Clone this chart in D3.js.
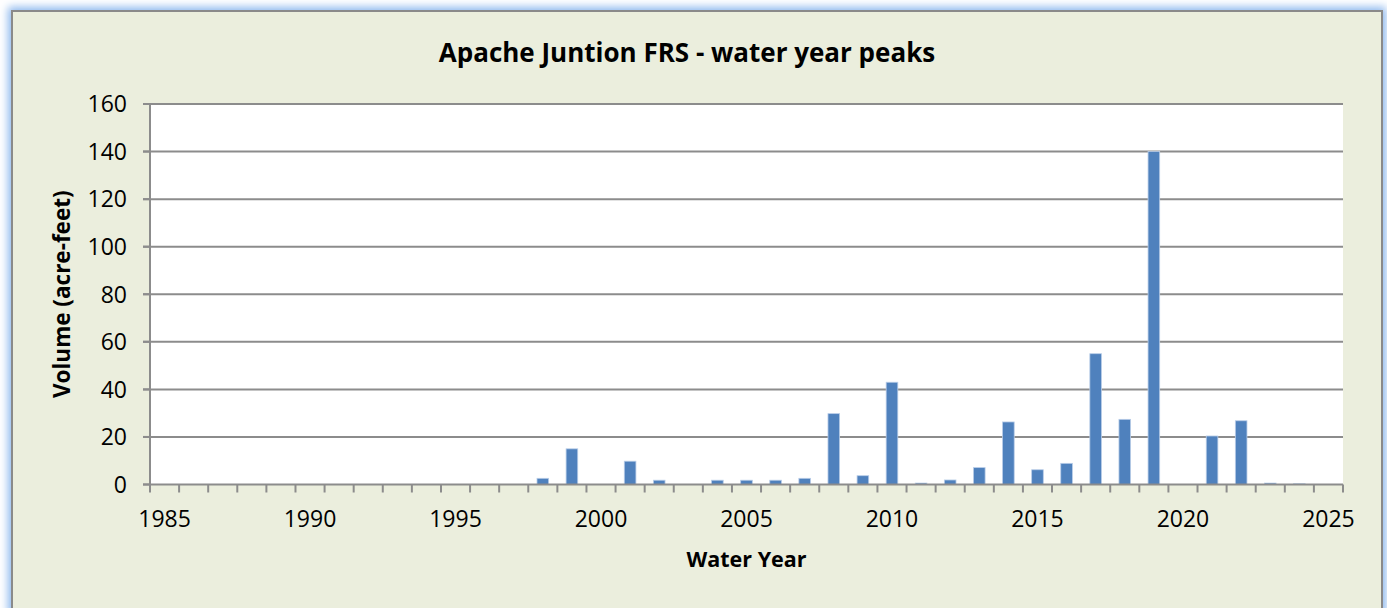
<!DOCTYPE html>
<html>
<head>
<meta charset="utf-8">
<script src="https://cdn.jsdelivr.net/npm/d3@7"></script>
<style>
  html, body { margin: 0; padding: 0; background: #ffffff; }
  svg { display: block; font-family: "Open Sans", Lato, sans-serif; }
</style>
</head>
<body>
<div id="chart"></div>
<script>
const title = "Apache Juntion FRS - water year peaks";
const xTitle = "Water Year";
const yTitle = "Volume (acre-feet)";

const waterYears = [1998, 1999, 2001, 2002, 2004, 2005, 2006, 2007, 2008, 2009, 2010, 2011, 2012,
  2013, 2014, 2015, 2016, 2017, 2018, 2019, 2021, 2022, 2023, 2024];
const peakVolumes = [2.6, 15, 9.8, 1.8, 1.8, 1.8, 1.8, 2.6, 29.8, 3.7, 43, 0.6, 1.9,
  7.1, 26.3, 6.2, 8.9, 55, 27.4, 140, 20.4, 26.8, 0.6, 0.3];
const yTicks = [0, 20, 40, 60, 80, 100, 120, 140, 160];
const xLabels = [1985, 1990, 1995, 2000, 2005, 2010, 2015, 2020, 2025];

const width = 1387, height = 608;
const margin = { left: 150, right: 44, top: 104, bottom: 123.5 };

const svg = d3.select("#chart").append("svg")
  .attr("width", width).attr("height", height);

const defs = svg.append("defs");
const glow = defs.append("filter").attr("id", "glow")
  .attr("x", "-5%").attr("y", "-10%").attr("width", "110%").attr("height", "120%");
glow.append("feMorphology").attr("in", "SourceAlpha").attr("operator", "dilate").attr("radius", 3).attr("result", "fat");
glow.append("feGaussianBlur").attr("in", "fat").attr("stdDeviation", 4).attr("result", "blur");
glow.append("feFlood").attr("flood-color", "#8db8ee");
glow.append("feComposite").attr("in2", "blur").attr("operator", "in").attr("result", "halo");
const merge = glow.append("feMerge");
merge.append("feMergeNode").attr("in", "halo");
merge.append("feMergeNode").attr("in", "SourceGraphic");

// chart area
svg.append("rect")
  .attr("x", 12).attr("y", 11).attr("width", 1370).attr("height", 600)
  .attr("fill", "#ebeedd").attr("stroke", "#8a8a8a").attr("stroke-width", 2)
  .attr("filter", "url(#glow)");

const x = d3.scaleBand()
  .domain(d3.range(1985, 2026))
  .range([margin.left, width - margin.right])
  .paddingInner(0.6).paddingOuter(0.3);
const step = x.step();
const center = (yr) => x(yr) + x.bandwidth() / 2;

const y = d3.scaleLinear().domain([0, 160])
  .range([height - margin.bottom, margin.top]);

// plot area
svg.append("rect")
  .attr("x", margin.left).attr("y", margin.top)
  .attr("width", width - margin.right - margin.left)
  .attr("height", y(0) - margin.top)
  .attr("fill", "#ffffff");

// gridlines
svg.append("g").selectAll("line").data(yTicks.filter((d) => d > 0)).join("line")
  .attr("x1", margin.left - 7).attr("x2", width - margin.right)
  .attr("y1", (d) => y(d)).attr("y2", (d) => y(d))
  .attr("stroke", "#8c8c8c").attr("stroke-width", 2);

// bars
const data = waterYears.map((yr, i) => ({ yr, v: peakVolumes[i] }));
svg.append("g").selectAll("rect").data(data).join("rect")
  .attr("x", (d) => x(d.yr)).attr("width", x.bandwidth())
  .attr("y", (d) => y(d.v)).attr("height", (d) => y(0) - y(d.v))
  .attr("fill", "#4f81bd").attr("stroke", "#b9cde8").attr("stroke-width", 0.8);

// y axis
const yAxis = svg.append("g");
yAxis.append("line")
  .attr("x1", margin.left).attr("x2", margin.left)
  .attr("y1", margin.top).attr("y2", y(0))
  .attr("stroke", "#8c8c8c").attr("stroke-width", 2);
yAxis.selectAll("line.tick").data(yTicks).join("line").attr("class", "tick")
  .attr("x1", margin.left - 7).attr("x2", margin.left)
  .attr("y1", (d) => y(d)).attr("y2", (d) => y(d))
  .attr("stroke", "#8c8c8c").attr("stroke-width", 2);
yAxis.selectAll("text").data(yTicks).join("text")
  .attr("x", margin.left - 23).attr("y", (d) => y(d))
  .attr("dy", "0.36em").attr("text-anchor", "end")
  .attr("font-size", 23).attr("fill", "#000")
  .text((d) => d);

// x axis
const xAxis = svg.append("g");
xAxis.append("line")
  .attr("x1", margin.left - 7).attr("x2", width - margin.right)
  .attr("y1", y(0)).attr("y2", y(0))
  .attr("stroke", "#8c8c8c").attr("stroke-width", 2);
const bounds = x.domain().map((yr) => center(yr) - step / 2).concat([center(2025) + step / 2]);
xAxis.selectAll("line.tick").data(bounds).join("line").attr("class", "tick")
  .attr("x1", (d) => d).attr("x2", (d) => d)
  .attr("y1", y(0)).attr("y2", y(0) + 8)
  .attr("stroke", "#8c8c8c").attr("stroke-width", 2);
xAxis.selectAll("text").data(xLabels).join("text")
  .attr("x", (d) => center(d)).attr("y", 527)
  .attr("text-anchor", "middle")
  .attr("font-size", 23).attr("fill", "#000")
  .text((d) => d);

// titles
svg.append("text")
  .attr("x", 687).attr("y", 62).attr("text-anchor", "middle")
  .attr("font-size", 26).attr("font-weight", "bold").attr("fill", "#000")
  .text(title);
svg.append("text")
  .attr("x", (margin.left + width - margin.right) / 2).attr("y", 567)
  .attr("text-anchor", "middle")
  .attr("font-size", 21.5).attr("font-weight", "bold").attr("fill", "#000")
  .text(xTitle);
svg.append("text")
  .attr("transform", `translate(70, ${(margin.top + y(0)) / 2}) rotate(-90)`)
  .attr("text-anchor", "middle")
  .attr("font-size", 22.5).attr("font-weight", "bold").attr("fill", "#000")
  .text(yTitle);
</script>
</body>
</html>
